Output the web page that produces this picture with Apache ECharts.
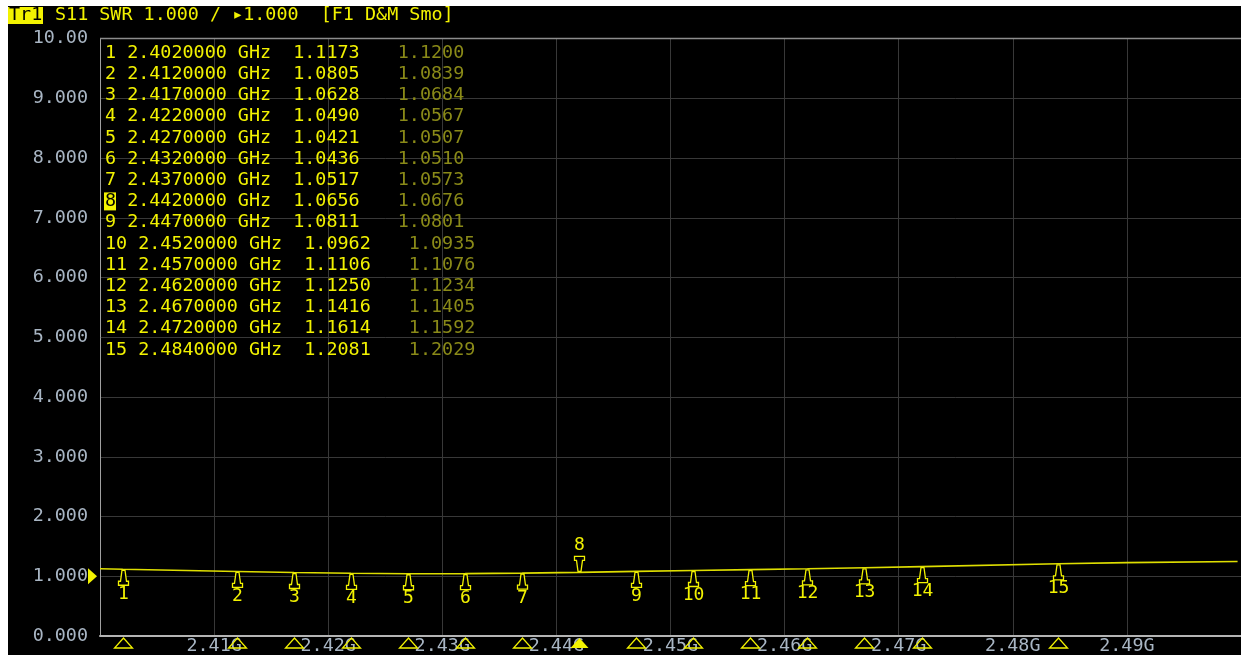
<!DOCTYPE html>
<html>
<head>
<meta charset="utf-8">
<script src="https://cdn.jsdelivr.net/npm/echarts@6/dist/echarts.min.js"></script>
<style>
html, body { margin: 0; padding: 0; background: #fff; }
#c { width: 1241px; height: 655px; }
</style>
</head>
<body>
<div id="c"></div>
<script>
// Marker frequencies (GHz), marker SWR readings and the memory-trace readings
const markerFreq = [2.402, 2.412, 2.417, 2.422, 2.427, 2.432, 2.437, 2.442, 2.447, 2.452, 2.457, 2.462, 2.467, 2.472, 2.484];
const markerSwr  = [1.1173, 1.0805, 1.0628, 1.0490, 1.0421, 1.0436, 1.0517, 1.0656, 1.0811, 1.0962, 1.1106, 1.1250, 1.1416, 1.1614, 1.2081];
const memorySwr  = [1.1200, 1.0839, 1.0684, 1.0567, 1.0507, 1.0510, 1.0573, 1.0676, 1.0801, 1.0935, 1.1076, 1.1234, 1.1405, 1.1592, 1.2029];
const activeMarker = 8;

// S11 SWR trace
const traceFreq = [2.400, 2.402, 2.412, 2.417, 2.422, 2.427, 2.432, 2.437, 2.442, 2.447, 2.452, 2.457, 2.462, 2.467, 2.472, 2.484, 2.490, 2.4997];
const traceSwr  = [1.125, 1.1173, 1.0805, 1.0628, 1.0490, 1.0421, 1.0436, 1.0517, 1.0656, 1.0811, 1.0962, 1.1106, 1.1250, 1.1416, 1.1614, 1.2081, 1.228, 1.247];

// Axis ticks
const xTickValues = [2.41, 2.42, 2.43, 2.44, 2.45, 2.46, 2.47, 2.48, 2.49];
const xTickLabels = ['2.41G', '2.42G', '2.43G', '2.44G', '2.45G', '2.46G', '2.47G', '2.48G', '2.49G'];
const yTickLabels = ['0.000', '1.000', '2.000', '3.000', '4.000', '5.000', '6.000', '7.000', '8.000', '9.000', '10.00'];
const refLevel = 1.0;

const MONO = '"DejaVu Sans Mono", "Liberation Mono", monospace';
const YELLOW = '#f2f200';
const TRACE = '#dede00';
const DIM = '#8a8a18';
const AXIS_TEXT = '#a9b6c4';
const FS = 18.4;
const CHAR_W = FS * 0.602;

const chart = echarts.init(document.getElementById('c'), null, { renderer: 'canvas' });

// marker readout table
const tableGraphics = [];
markerFreq.forEach((f, i) => {
  const n = i + 1;
  const main = n + ' ' + f.toFixed(7) + ' GHz  ' + markerSwr[i].toFixed(4);
  const y = 53 + i * 21.2;
  if (n === activeMarker) {
    tableGraphics.push({
      type: 'rect', shape: { x: 104, y: y - 9, width: 12, height: 18 },
      style: { fill: YELLOW }, z: 10
    });
  }
  tableGraphics.push({
    type: 'text', x: 105, y: y, z: 11,
    style: { text: main, fill: YELLOW, font: FS + 'px ' + MONO, verticalAlign: 'middle' }
  });
  if (n === activeMarker) {
    tableGraphics.push({
      type: 'text', x: 105, y: y, z: 12,
      style: { text: String(n), fill: '#000', font: FS + 'px ' + MONO, verticalAlign: 'middle' }
    });
  }
  tableGraphics.push({
    type: 'text', x: 105 + main.length * CHAR_W + 38, y: y, z: 11,
    style: { text: memorySwr[i].toFixed(4), fill: DIM, font: FS + 'px ' + MONO, verticalAlign: 'middle' }
  });
});

const option = {
  backgroundColor: '#000',
  animation: false,
  grid: { left: 100, top: 38.5, width: 1144, height: 597.5, show: false },
  xAxis: {
    type: 'value', min: 2.40, max: 2.50, interval: 0.01,
    axisLine: { show: true, lineStyle: { color: '#b4b4b4', width: 2 } },
    axisTick: { show: false },
    splitLine: { show: true, lineStyle: { color: '#383838', width: 1 } },
    axisLabel: {
      color: AXIS_TEXT, fontFamily: MONO, fontSize: FS, margin: 1,
      showMinLabel: false, showMaxLabel: false,
      formatter: v => {
        const k = xTickValues.findIndex(t => Math.abs(t - v) < 1e-6);
        return k >= 0 ? xTickLabels[k] : '';
      }
    }
  },
  yAxis: {
    type: 'value', min: 0, max: 10, interval: 1,
    axisLine: { show: true, lineStyle: { color: '#a0a0a0', width: 1 } },
    axisTick: { show: false },
    splitLine: { show: true, lineStyle: { color: '#383838', width: 1 } },
    axisLabel: {
      color: AXIS_TEXT, fontFamily: MONO, fontSize: FS, margin: 12,
      showMaxLabel: true,
      formatter: v => yTickLabels[Math.round(v)]
    }
  },
  graphic: [
    // frame outside the plot
    { type: 'rect', shape: { x: 0, y: 0, width: 1241, height: 6 }, style: { fill: '#fff' }, z: 20 },
    { type: 'rect', shape: { x: 0, y: 0, width: 8, height: 655 }, style: { fill: '#fff' }, z: 20 },
    // top border of the plot
    { type: 'line', shape: { x1: 100, y1: 38.5, x2: 1241, y2: 38.5 }, style: { stroke: '#8c8c8c', lineWidth: 1.5 }, z: 5 },
    // trace header
    { type: 'rect', shape: { x: 8, y: 7, width: 35, height: 17 }, style: { fill: YELLOW }, z: 10 },
    { type: 'text', x: 9, y: 15.5, z: 11,
      style: { text: 'Tr1', fill: '#000', font: FS + 'px ' + MONO, verticalAlign: 'middle' } },
    { type: 'text', x: 55, y: 15.5, z: 11,
      style: { text: 'S11 SWR 1.000 / \u25B81.000  [F1 D&M Smo]', fill: YELLOW, font: FS + 'px ' + MONO, verticalAlign: 'middle' } },
    ...tableGraphics
  ],
  series: [
    {
      name: 'S11 SWR', type: 'line',
      data: traceFreq.map((f, i) => [f, traceSwr[i]]),
      showSymbol: false, symbol: 'none',
      lineStyle: { color: TRACE, width: 1.6 },
      z: 3
    },
    {
      // marker flags sitting on the trace
      name: 'markers', type: 'custom', clip: false, z: 4,
      data: markerFreq.map((f, i) => [f, markerSwr[i], i + 1]),
      renderItem: (params, api) => {
        const p = api.coord([api.value(0), api.value(1)]);
        const n = api.value(2);
        const x = Math.round(p[0]) + 0.5;
        const y = p[1];
        const up = n !== activeMarker;
        const s = up ? 1 : -1;
        const pts = [
          [x - 1.5, y + s * 1], [x + 1.5, y + s * 1], [x + 3, y + s * 12], [x + 5, y + s * 12],
          [x + 5, y + s * 16], [x - 5, y + s * 16], [x - 5, y + s * 12], [x - 3, y + s * 12]
        ];
        return {
          type: 'group',
          children: [
            { type: 'polygon', shape: { points: pts }, style: { fill: '#000', stroke: YELLOW, lineWidth: 1.3 } },
            { type: 'text', x: x, y: up ? y + 25 : y - 27,
              style: { text: String(n), fill: YELLOW, font: '18px ' + MONO, align: 'center', verticalAlign: 'middle' } }
          ]
        };
      }
    },
    {
      // marker position indicators along the frequency axis
      name: 'marker ticks', type: 'custom', clip: false, z: 6,
      data: markerFreq.map((f, i) => [f, 0, i + 1]),
      renderItem: (params, api) => {
        const p = api.coord([api.value(0), api.value(1)]);
        const x = Math.round(p[0]) + 0.5;
        const active = api.value(2) === activeMarker;
        return {
          type: 'polygon',
          shape: { points: [[x - 9, p[1] + 12], [x + 9, p[1] + 12], [x, p[1] + 2]] },
          style: active ? { fill: YELLOW } : { fill: 'none', stroke: YELLOW, lineWidth: 1.3 }
        };
      }
    },
    {
      // reference level pointer
      name: 'reference', type: 'custom', clip: false, z: 6,
      data: [[2.40, refLevel]],
      renderItem: (params, api) => {
        const p = api.coord([api.value(0), api.value(1)]);
        return {
          type: 'polygon',
          shape: { points: [[p[0] - 12, p[1] - 8], [p[0] - 3, p[1]], [p[0] - 12, p[1] + 8]] },
          style: { fill: YELLOW }
        };
      }
    }
  ]
};

chart.setOption(option);
</script>
</body>
</html>
